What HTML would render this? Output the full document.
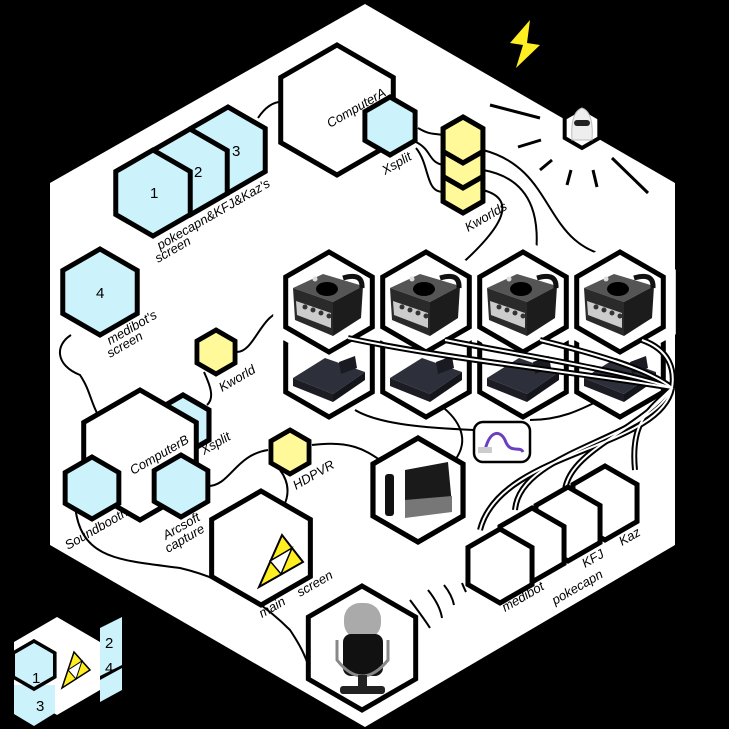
<!DOCTYPE html>
<html><head><meta charset="utf-8"><style>
html,body{margin:0;padding:0;background:#000;}
svg{display:block;}
text{font-family:"Liberation Sans",sans-serif;font-style:italic;font-size:13px;fill:#000;}
.n{font-style:normal;font-size:15px;}
</style></head><body>
<svg width="729" height="729" viewBox="0 0 729 729" xmlns="http://www.w3.org/2000/svg">
<defs>
<polygon id="h" points="0,-1 0.866,-0.5 0.866,0.5 0,1 -0.866,0.5 -0.866,-0.5"/>
<g id="gc">
 <polygon points="-36,-10 -6,-24 34,-12 4,4" fill="#555"/>
 <polygon points="-36,-10 4,4 4,38 -34,22" fill="#2a2a2a"/>
 <polygon points="4,4 34,-12 32,20 4,38" fill="#1c1c1c"/>
 <polygon points="-33,3 2,15 2,30 -32,17" fill="#ccc"/>
 <circle cx="-24" cy="9" r="2.5" fill="#333"/><circle cx="-16" cy="12" r="2.5" fill="#333"/><circle cx="-8" cy="15" r="2.5" fill="#333"/><circle cx="0" cy="18" r="2.5" fill="#333"/>
 <ellipse cx="-2" cy="-9" rx="11" ry="7" fill="#000"/>
 <path d="M14,-20 Q34,-26 33,-10" stroke="#111" stroke-width="5" fill="none"/>
 <circle cx="-14" cy="-19" r="2.5" fill="#ddd"/>
</g>
<g id="gb">
 <polygon points="-36,8 -4,-12 36,2 4,24" fill="#2d2f3a"/>
 <polygon points="-36,8 4,24 4,32 -36,16" fill="#1c1d24"/>
 <polygon points="4,24 36,2 36,10 4,32" fill="#14151b"/>
 <polygon points="10,-8 26,-14 28,-2 12,4" fill="#1a1b22"/>
</g>
</defs>

<polygon points="365,4 675,183 675,545 365,727 50,545 50,183" fill="#fff"/>

<g fill="none" stroke="#000" stroke-width="2">
<path d="M258,118 Q270,100 285,102"/>
<path d="M418,128 C430,135 432,133 443,135"/>
<path d="M416,142 C432,150 428,162 443,165"/>
<path d="M416,148 C430,165 425,192 443,192"/>
<path d="M483,190 C520,200 500,230 457,268"/>
<path d="M483,170 C540,180 538,230 536,255"/>
<path d="M483,150 C560,170 540,250 620,258"/>
<path d="M71,335 C55,345 55,365 80,375 C90,390 90,400 98,415"/>
<path d="M237,352 C255,352 262,310 285,312"/>
<path d="M204,372 C210,385 215,398 207,405"/>
<path d="M208,486 C230,486 235,455 268,450"/>
<path d="M312,445 C350,440 365,450 380,460"/>
<path d="M280,470 C295,490 285,510 272,520"/>
<path d="M75,505 C80,560 120,560 180,568 C210,575 250,590 290,630 C300,645 305,655 310,670"/>
<path d="M440,405 C460,420 470,440 455,460"/>
<path d="M530,420 C560,420 580,410 600,400"/>
<path d="M355,410 C380,425 430,428 474,430"/>
</g>
<g fill="none" stroke="#000" stroke-width="2">
<path d="M410,600 Q425,620 430,628"/><path d="M428,590 Q440,605 442,618"/><path d="M444,585 Q452,595 454,605"/><path d="M462,583 Q464,588 466,592"/>
</g>

<g stroke="#000" stroke-width="3">
<line x1="490" y1="105" x2="540" y2="118"/><line x1="518" y1="147" x2="541" y2="140"/>
<line x1="540" y1="170" x2="552" y2="160"/><line x1="567" y1="185" x2="571" y2="170"/>
<line x1="597" y1="187" x2="593" y2="170"/><line x1="648" y1="193" x2="612" y2="158"/>
</g>
<polygon points="530,20 510,43 523,45 516,68 540,45 527,43" fill="#ffee22"/>

<g fill="#ccf2fb" stroke="#000">
<use href="#h" transform="translate(228,150) scale(43)" style="stroke-width:0.116"/>
<use href="#h" transform="translate(190,172) scale(43)" style="stroke-width:0.116"/>
<use href="#h" transform="translate(153,193) scale(43)" style="stroke-width:0.116"/>
<use href="#h" transform="translate(100,292) scale(43)" style="stroke-width:0.116"/>
</g>
<text class="n" x="150" y="198">1</text><text class="n" x="194" y="177">2</text><text class="n" x="232" y="156">3</text><text class="n" x="96" y="298">4</text>
<text transform="translate(160,250) rotate(-30)">pokecapn&amp;KFJ&amp;Kaz's</text>
<text transform="translate(158,263) rotate(-30)">screen</text>
<text transform="translate(110,345) rotate(-30)">medibot's</text>
<text transform="translate(110,358) rotate(-30)">screen</text>

<use href="#h" transform="translate(337,110) scale(65)" fill="#fff" stroke="#000" style="stroke-width:0.077"/>
<use href="#h" transform="translate(390,126) scale(29)" fill="#ccf2fb" stroke="#000" style="stroke-width:0.17"/>
<text transform="translate(330,128) rotate(-30)">ComputerA</text>
<text transform="translate(385,175) rotate(-30)">Xsplit</text>

<g fill="#fff99a" stroke="#000" style="stroke-width:0.22">
<use href="#h" transform="translate(463,190) scale(23)"/>
<use href="#h" transform="translate(463,165) scale(23)"/>
<use href="#h" transform="translate(463,140) scale(23)"/>
</g>
<text transform="translate(468,232) rotate(-30)">Kworlds</text>

<use href="#h" transform="translate(582,128) scale(20)" fill="#fff" stroke="#000" style="stroke-width:0.2"/>
<path d="M572,140 Q570,112 582,108 Q594,112 592,140 Z" fill="#eee" stroke="#bbb"/>
<rect x="574" y="120" width="16" height="6" rx="3" fill="#222"/>

<g>
<g fill="#fff" stroke="#000" style="stroke-width:0.1">
<use href="#h" transform="translate(329,367) scale(50)"/><use href="#h" transform="translate(426,367) scale(50)"/>
<use href="#h" transform="translate(523,367) scale(50)"/><use href="#h" transform="translate(620,367) scale(50)"/>
</g>
<g fill="#fff" stroke="#fff" style="stroke-width:0.5">
<use href="#h" transform="translate(329,302) scale(50)"/><use href="#h" transform="translate(426,302) scale(50)"/>
<use href="#h" transform="translate(523,302) scale(50)"/><use href="#h" transform="translate(620,302) scale(50)"/>
</g>
<g fill="#fff" stroke="#000" style="stroke-width:0.1">
<use href="#h" transform="translate(329,302) scale(50)"/><use href="#h" transform="translate(426,302) scale(50)"/>
<use href="#h" transform="translate(523,302) scale(50)"/><use href="#h" transform="translate(620,302) scale(50)"/>
</g>
<use href="#gc" x="329" y="298"/><use href="#gc" x="426" y="298"/><use href="#gc" x="523" y="298"/><use href="#gc" x="620" y="298"/>
<use href="#gb" x="329" y="370"/><use href="#gb" x="426" y="370"/><use href="#gb" x="523" y="370"/><use href="#gb" x="620" y="370"/>
</g>

<g fill="none" stroke="#000" stroke-width="6">
<path id="c1" d="M348,338 C450,360 600,375 672,388"/>
<path id="c2" d="M445,340 C520,355 620,370 672,388"/>
<path id="c3" d="M540,340 C600,355 650,370 672,388"/>
<path id="c4" d="M642,340 C670,350 675,370 672,388"/>
<path id="c5" d="M672,388 C660,450 500,450 480,530"/>
<path id="c6" d="M672,388 C650,440 520,450 515,510"/>
<path id="c7" d="M672,388 C640,430 570,450 565,490"/>
<path id="c8" d="M672,388 C650,410 630,420 635,470"/>
</g>
<g fill="none" stroke="#fff" stroke-width="2">
<use href="#c1"/><use href="#c2"/><use href="#c3"/><use href="#c4"/><use href="#c5"/><use href="#c6"/><use href="#c7"/><use href="#c8"/>
</g>

<rect x="474" y="422" width="56" height="40" rx="9" fill="#fff" stroke="#000" stroke-width="2.5"/>
<path d="M485,450 C490,430 500,430 505,440 C510,455 520,445 523,452" stroke="#6a3fc0" stroke-width="3" fill="none"/>
<rect x="478" y="447" width="14" height="6" fill="#ccc"/>

<use href="#h" transform="translate(418,490) scale(52)" fill="#fff" stroke="#000" style="stroke-width:0.1"/>
<rect x="385" y="474" width="9" height="42" rx="3" fill="#111"/>
<polygon points="405,470 448,462 452,505 405,512" fill="#1a1a1a"/>
<polygon points="405,500 452,496 452,512 405,518" fill="#777"/>

<g fill="#fff" stroke="#000" style="stroke-width:0.135">
<use href="#h" transform="translate(605,503) scale(37)"/>
<use href="#h" transform="translate(568,524) scale(37)"/>
<use href="#h" transform="translate(532,545) scale(37)"/>
<use href="#h" transform="translate(500,566) scale(37)"/>
</g>
<text transform="translate(505,612) rotate(-30)">medibot</text>
<text transform="translate(555,605) rotate(-30)">pokecapn</text>
<text transform="translate(585,568) rotate(-30)">KFJ</text>
<text transform="translate(622,546) rotate(-30)">Kaz</text>

<use href="#h" transform="translate(183,425) scale(30)" fill="#ccf2fb" stroke="#000" style="stroke-width:0.17"/>
<use href="#h" transform="translate(140,455) scale(65)" fill="#fff" stroke="#000" style="stroke-width:0.077"/>
<use href="#h" transform="translate(92,488) scale(31)" fill="#ccf2fb" stroke="#000" style="stroke-width:0.16"/>
<use href="#h" transform="translate(181,486) scale(31)" fill="#ccf2fb" stroke="#000" style="stroke-width:0.16"/>
<text transform="translate(133,475) rotate(-30)">ComputerB</text>
<text transform="translate(204,455) rotate(-30)">Xsplit</text>
<text transform="translate(68,550) rotate(-30)">Soundbooth</text>
<text transform="translate(166,540) rotate(-30)">Arcsoft</text>
<text transform="translate(168,553) rotate(-30)">capture</text>

<use href="#h" transform="translate(216,352) scale(22)" fill="#fff99a" stroke="#000" style="stroke-width:0.22"/>
<text transform="translate(222,392) rotate(-30)">Kworld</text>
<use href="#h" transform="translate(290,452) scale(22)" fill="#fff99a" stroke="#000" style="stroke-width:0.22"/>
<text transform="translate(296,490) rotate(-30)">HDPVR</text>

<use href="#h" transform="translate(261,548) scale(57)" fill="#fff" stroke="#000" style="stroke-width:0.088"/>
<polygon points="282,535 259,587 303,562" fill="#ffee22" stroke="#000" stroke-width="2"/>
<polygon points="270,561 292,548 281,574" fill="#fff" stroke="#000" stroke-width="1.5"/>
<text transform="translate(262,618) rotate(-30)">main</text>
<text transform="translate(300,597) rotate(-30)">screen</text>

<use href="#h" transform="translate(362,648) scale(62)" fill="#fff" stroke="#000" style="stroke-width:0.08"/>
<rect x="344" y="603" width="37" height="36" rx="16" fill="#aaa"/>
<rect x="343" y="634" width="40" height="42" rx="8" fill="#111"/>
<path d="M337,640 V660 Q362,692 388,660 V640" stroke="#888" stroke-width="3" fill="none"/>
<rect x="358" y="675" width="9" height="12" fill="#222"/>
<rect x="340" y="686" width="45" height="8" rx="3" fill="#222"/>

<polygon points="57,617 100,642 100,690 57,715 14,690 14,642" fill="#fff"/>
<polygon points="100,628 122,617 122,665 100,676" fill="#ccf2fb"/>
<polygon points="100,680 122,668 122,690 100,702" fill="#ccf2fb"/>
<polygon points="14,685 55,685 55,713 34,726 14,714" fill="#ccf2fb"/>
<use href="#h" transform="translate(34,665) scale(24)" fill="#ccf2fb" stroke="#000" style="stroke-width:0.15"/>
<polygon points="74,652 62,688 90,670" fill="#ffee22" stroke="#000" stroke-width="1.5"/>
<polygon points="68,670 82,661 76,679" fill="#fff" stroke="#000" stroke-width="1"/>
<text class="n" x="32" y="683">1</text><text class="n" x="36" y="711">3</text>
<text class="n" x="105" y="648">2</text><text class="n" x="105" y="673">4</text>
</svg>
</body></html>
